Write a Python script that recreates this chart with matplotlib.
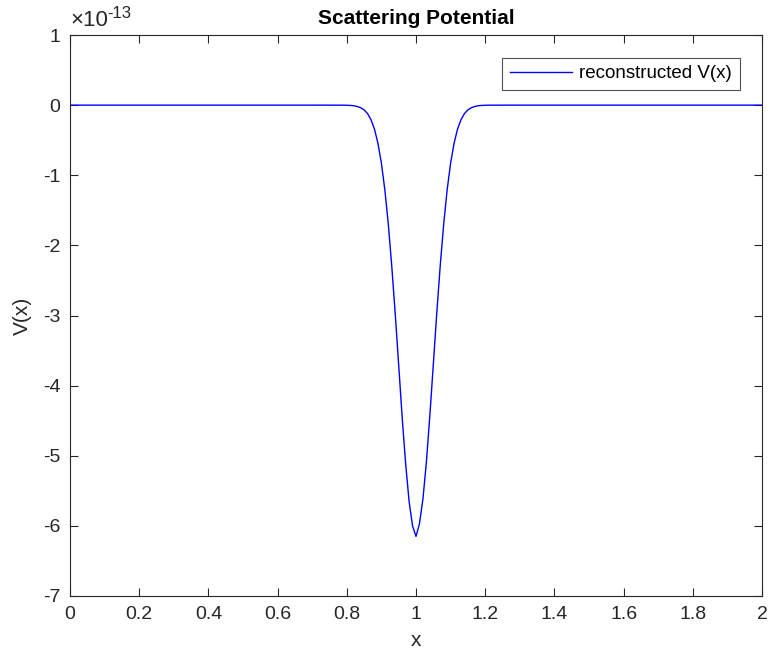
import matplotlib
matplotlib.use("Agg")
import matplotlib.pyplot as plt
from matplotlib.transforms import offset_copy

plt.rcParams['font.family'] = ['Liberation Sans', 'DejaVu Sans']

# x positions and reconstructed potential (in units of 1e-13)
x_vals = [0.0, 0.70, 0.78, 0.79,
          0.80, 0.81, 0.82, 0.83, 0.84, 0.85, 0.86, 0.87, 0.88, 0.89,
          0.90, 0.91, 0.92, 0.93, 0.94, 0.95, 0.96, 0.97, 0.98, 0.99,
          1.00, 1.01, 1.02, 1.03, 1.04, 1.05, 1.06, 1.07, 1.08, 1.09,
          1.10, 1.11, 1.12, 1.13, 1.14, 1.15, 1.16, 1.17, 1.18, 1.19,
          1.20, 1.21, 1.22, 1.30, 2.0]
v_vals = [0.0, 0.0, -0.0005, -0.001,
          -0.002, -0.0045, -0.009, -0.019, -0.037, -0.068, -0.121, -0.208, -0.343, -0.544,
          -0.828, -1.21, -1.70, -2.30, -2.98, -3.71, -4.45, -5.11, -5.65, -6.00,
          -6.15, -5.97, -5.62, -5.09, -4.43, -3.70, -2.97, -2.29, -1.70, -1.21,
          -0.828, -0.544, -0.343, -0.208, -0.121, -0.068, -0.037, -0.019, -0.009, -0.0045,
          -0.002, -0.001, -0.0005, 0.0, 0.0]

x_ticks = [0, 0.2, 0.4, 0.6, 0.8, 1, 1.2, 1.4, 1.6, 1.8, 2]
x_ticklabels = ['0', '0.2', '0.4', '0.6', '0.8', '1', '1.2', '1.4', '1.6', '1.8', '2']
y_ticks = [-7, -6, -5, -4, -3, -2, -1, 0, 1]
y_ticklabels = ['-7', '-6', '-5', '-4', '-3', '-2', '-1', '0', '1']

fig = plt.figure(figsize=(7.7, 6.53), dpi=100)
ax = fig.add_axes([70/770, 57/653, 692/770, 561/653])

ax.plot(x_vals, v_vals, color=(0, 0, 1), lw=1.0, label='reconstructed V(x)')

ax.set_xlim(0, 2)
ax.set_ylim(-7, 1)
ax.set_xticks(x_ticks)
ax.set_xticklabels(x_ticklabels)
ax.set_yticks(y_ticks)
ax.set_yticklabels(y_ticklabels)

dark = (0.15, 0.15, 0.15)
for s in ax.spines.values():
    s.set_color(dark)
    s.set_linewidth(0.8)
ax.tick_params(direction='in', length=6, width=0.8, colors=dark,
               labelsize=14, top=True, right=True, pad=7)

ax.set_title('Scattering Potential', fontsize=15, fontweight='bold', color='black', pad=8)
ax.set_xlabel('x', fontsize=15, color=dark, labelpad=6)
ax.set_ylabel('V(x)', fontsize=15, color=dark, labelpad=8)

# exponent label like MATLAB
ax.text(0.0, 1.008, '\u00d710', transform=ax.transAxes,
        fontsize=16, color=dark, ha='left', va='bottom')
exp_tr = offset_copy(ax.transAxes, fig=fig, x=37, y=10, units='dots')
ax.text(0.0, 1.008, '-13', transform=exp_tr,
        fontsize=12, color=dark, ha='left', va='bottom')

leg = ax.legend(loc='upper right', fontsize=13.5, frameon=True, fancybox=False,
                borderaxespad=1.2, handlelength=3.3, handletextpad=0.4,
                borderpad=0.4)
leg.get_frame().set_edgecolor(dark)
leg.get_frame().set_linewidth(0.8)

fig.savefig('out.png', dpi=100)
